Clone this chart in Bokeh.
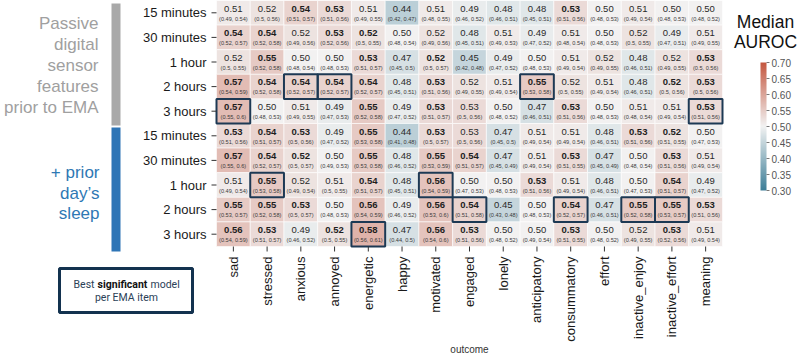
import math
import numpy as np
from bokeh.plotting import figure
from bokeh.models import ColumnDataSource, LinearColorMapper, Range1d
from bokeh.core.properties import value
from bokeh.transform import transform
from bokeh.embed import file_html
from bokeh.resources import INLINE

# ---------------- data ----------------
outcomes = ["sad", "stressed", "anxious", "annoyed", "energetic", "happy", "motivated",
            "engaged", "lonely", "anticipatory", "consummatory", "effort",
            "inactive_enjoy", "inactive_effort", "meaning"]
windows = ["15 minutes", "30 minutes", "1 hour", "2 hours", "3 hours"]
row_labels = windows + windows
group_passive = ["Passive", "digital", "sensor", "features", "prior to EMA"]
group_sleep = ["+ prior", "day\u2019s", "sleep"]

auroc = [
    [.51, .52, .54, .53, .51, .44, .51, .49, .48, .48, .53, .50, .51, .50, .50],
    [.54, .54, .52, .53, .52, .50, .52, .48, .51, .49, .51, .50, .52, .49, .51],
    [.52, .55, .50, .50, .53, .47, .52, .45, .49, .50, .51, .52, .48, .52, .53],
    [.57, .54, .54, .54, .54, .48, .53, .52, .51, .55, .52, .51, .48, .52, .53],
    [.57, .50, .51, .49, .55, .49, .53, .53, .50, .47, .53, .50, .51, .51, .53],
    [.53, .54, .53, .49, .55, .44, .53, .53, .47, .51, .51, .48, .53, .52, .50],
    [.57, .54, .52, .50, .55, .48, .55, .54, .47, .51, .53, .47, .50, .53, .51],
    [.51, .55, .52, .51, .54, .48, .56, .50, .50, .53, .51, .48, .50, .54, .49],
    [.55, .55, .53, .50, .56, .49, .56, .54, .45, .50, .54, .47, .55, .55, .53],
    [.56, .53, .49, .52, .58, .47, .56, .53, .50, .50, .53, .50, .52, .53, .51],
]
ci_low = [
    [.49, .50, .51, .51, .49, .42, .48, .46, .46, .45, .51, .48, .49, .48, .48],
    [.52, .52, .49, .52, .50, .48, .49, .45, .49, .47, .48, .48, .50, .47, .49],
    [.50, .52, .48, .48, .51, .45, .50, .42, .47, .48, .49, .49, .46, .49, .50],
    [.54, .52, .52, .52, .52, .45, .51, .49, .49, .53, .50, .49, .46, .50, .50],
    [.55, .48, .49, .47, .52, .47, .51, .50, .48, .46, .51, .48, .48, .49, .51],
    [.51, .51, .50, .47, .53, .41, .50, .50, .45, .49, .49, .46, .51, .51, .47],
    [.55, .52, .50, .49, .53, .46, .53, .51, .45, .49, .51, .45, .48, .51, .49],
    [.49, .53, .49, .50, .51, .45, .54, .47, .48, .51, .49, .46, .47, .51, .47],
    [.53, .52, .50, .48, .54, .46, .53, .51, .43, .48, .52, .46, .52, .53, .51],
    [.54, .51, .46, .50, .56, .44, .54, .51, .48, .49, .51, .48, .49, .52, .49],
]
ci_high = [
    [.54, .56, .57, .56, .55, .47, .55, .52, .51, .51, .56, .53, .54, .53, .52],
    [.57, .58, .56, .56, .55, .54, .56, .51, .53, .52, .54, .53, .55, .51, .55],
    [.55, .58, .54, .53, .57, .50, .57, .48, .52, .53, .54, .55, .51, .55, .56],
    [.59, .58, .57, .57, .57, .51, .56, .55, .54, .58, .55, .54, .51, .56, .56],
    [.60, .53, .55, .53, .58, .52, .57, .56, .52, .51, .56, .53, .54, .54, .56],
    [.56, .57, .56, .52, .58, .48, .57, .56, .50, .54, .54, .51, .56, .55, .53],
    [.60, .57, .57, .53, .58, .52, .59, .57, .49, .54, .55, .49, .54, .56, .54],
    [.54, .58, .54, .55, .57, .51, .59, .53, .53, .56, .54, .51, .53, .57, .52],
    [.57, .58, .57, .53, .59, .52, .60, .58, .48, .53, .57, .51, .58, .57, .56],
    [.59, .57, .52, .55, .61, .50, .60, .56, .52, .54, .55, .52, .55, .56, .54],
]
significant = [
    [0, 0, 1, 1, 0, 0, 0, 0, 0, 0, 1, 0, 0, 0, 0],
    [1, 1, 0, 1, 1, 0, 0, 0, 0, 0, 0, 0, 0, 0, 0],
    [0, 1, 0, 0, 1, 0, 1, 0, 0, 0, 0, 0, 0, 0, 1],
    [1, 1, 1, 1, 1, 0, 1, 0, 0, 1, 0, 0, 0, 1, 1],
    [1, 0, 0, 0, 1, 0, 1, 0, 0, 0, 1, 0, 0, 0, 1],
    [1, 1, 1, 0, 1, 0, 1, 0, 0, 0, 0, 0, 1, 1, 0],
    [1, 1, 1, 0, 1, 0, 1, 1, 0, 0, 1, 0, 0, 1, 0],
    [0, 1, 0, 0, 1, 0, 1, 0, 0, 1, 0, 0, 0, 1, 0],
    [1, 1, 1, 0, 1, 0, 1, 1, 0, 0, 1, 0, 1, 1, 1],
    [1, 1, 0, 1, 1, 0, 1, 1, 0, 0, 1, 0, 0, 1, 0],
]
# best significant model per EMA item: (row index, outcome)
best_rows = [3, 3, 3, 4, 4, 7, 7, 8, 8, 8, 8, 9]
best_items = ["anxious", "annoyed", "anticipatory", "sad", "meaning", "stressed", "motivated",
              "engaged", "consummatory", "inactive_enjoy", "inactive_effort", "energetic"]
cbar_ticks = [0.30, 0.35, 0.40, 0.45, 0.50, 0.55, 0.60, 0.65, 0.70]
CB_LOW, CB_HIGH = 0.30, 0.70

# ---------------- layout helpers ----------------
W, H = 800, 357
FL, FR, FT, FB = 216, 722, 0, 246          # heatmap area in canvas pixels
CBL, CBR, CBT, CBB = 760, 766, 62, 190     # colour bar area in canvas pixels
NC, NR = len(outcomes), len(row_labels)
FONT = "Liberation Sans"
CW = (FR - FL) / NC
RH = (FB - FT) / NR


def xd(px):
    return (px - FL) / CW


def yd(py):
    return (FB - py) / RH


def cb_y(v):
    return yd(CBB - (v - CB_LOW) / (CB_HIGH - CB_LOW) * (CBB - CBT))


def lerp(a, b, t):
    return tuple(int(round(a[i] + (b[i] - a[i]) * t)) for i in range(3))


blue, mid, red = (61, 126, 152), (242, 242, 242), (196, 86, 63)
palette = []
for i in range(256):
    t = i / 255
    c = lerp(blue, mid, t * 2) if t < 0.5 else lerp(mid, red, (t - 0.5) * 2)
    palette.append("#%02x%02x%02x" % c)
mapper = LinearColorMapper(palette=palette, low=CB_LOW, high=CB_HIGH)

col_index = {name: i for i, name in enumerate(outcomes)}
xs, ys, vals, labs, cis, sigs = [], [], [], [], [], []
for r in range(NR):
    for c in range(NC):
        xs.append(c + 0.5)
        ys.append(NR - r - 0.5)
        vals.append(auroc[r][c])
        labs.append("%.2f" % auroc[r][c])
        cis.append("(%s, %s)" % (format(ci_low[r][c], "g"), format(ci_high[r][c], "g")))
        sigs.append(significant[r][c])

src = ColumnDataSource(dict(x=xs, y=ys, value=vals, label=labs, ci=cis))
bold_idx = [i for i in range(len(xs)) if sigs[i]]
norm_idx = [i for i in range(len(xs)) if not sigs[i]]
src_bold = ColumnDataSource(dict(x=[xs[i] for i in bold_idx], y=[ys[i] for i in bold_idx],
                                 label=[labs[i] for i in bold_idx]))
src_norm = ColumnDataSource(dict(x=[xs[i] for i in norm_idx], y=[ys[i] for i in norm_idx],
                                 label=[labs[i] for i in norm_idx]))
src_best = ColumnDataSource(dict(x=[col_index[n] + 0.5 for n in best_items],
                                 y=[NR - r - 0.5 for r in best_rows]))

p = figure(width=W, height=H, x_range=Range1d(xd(0), xd(W)), y_range=Range1d(yd(H), yd(0)),
           output_backend="svg", toolbar_location=None,
           x_axis_location=None, y_axis_location=None,
           min_border_left=0, min_border_right=0, min_border_top=0, min_border_bottom=0)
p.outline_line_color = None
p.grid.visible = False
p.background_fill_color = "white"

# heatmap cells
p.rect(x="x", y="y", width=1, height=1, source=src,
       fill_color=transform("value", mapper), line_color="white", line_width=0.6)
p.text(x="x", y="y", text="label", source=src_bold, text_font=value(FONT),
       text_font_style="bold", text_font_size="9.5px", text_align="center",
       text_baseline="middle", y_offset=-4.3, text_color="#1e1e1e")
p.text(x="x", y="y", text="label", source=src_norm, text_font=value(FONT),
       text_font_style="normal", text_font_size="9.5px", text_align="center",
       text_baseline="middle", y_offset=-4.3, text_color="#2a2a2a")
p.text(x="x", y="y", text="ci", source=src, text_font=value(FONT), text_font_size="5.6px",
       text_align="center", text_baseline="middle", y_offset=5.8, text_color="#3a3a3a")
p.rect(x="x", y="y", width=1, height=1, source=src_best, fill_color=None,
       line_color="#1d3954", line_width=2)

# row axis (labels + ticks)
row_y = [NR - r - 0.5 for r in range(NR)]
p.segment(x0=[xd(211)] * NR, x1=[xd(216)] * NR, y0=row_y, y1=row_y,
          line_color="#333333", line_width=1)
p.text(x=[xd(206)] * NR, y=row_y, text=row_labels, text_font=value(FONT),
       text_font_size="13px", text_align="right", text_baseline="middle",
       text_color="#1a1a1a")

# outcome axis (labels + ticks)
col_x = [i + 0.5 for i in range(NC)]
p.segment(x0=col_x, x1=col_x, y0=[yd(246)] * NC, y1=[yd(251)] * NC,
          line_color="#333333", line_width=1)
p.text(x=col_x, y=[yd(256)] * NC, text=outcomes, angle=math.pi / 2,
       text_font=value(FONT), text_font_size="13px", text_align="right",
       text_baseline="middle", text_color="#1a1a1a")
p.text(x=[NC / 2], y=[yd(349)], text=["outcome"], text_font=value(FONT),
       text_font_size="10px", text_align="center", text_baseline="middle",
       text_color="#333333")

# colour bar (gradient image through the same colour mapper)
grad = np.linspace(CB_LOW, CB_HIGH, 256).reshape(-1, 1)
p.image(image=[grad], x=xd(CBL), y=yd(CBB), dw=xd(CBR) - xd(CBL), dh=yd(CBT) - yd(CBB),
        color_mapper=mapper)
tick_y = [cb_y(v) for v in cbar_ticks]
p.segment(x0=[xd(CBR)] * len(cbar_ticks), x1=[xd(CBR + 3)] * len(cbar_ticks),
          y0=tick_y, y1=tick_y, line_color="#777777", line_width=1)
p.text(x=[xd(CBR + 5)] * len(cbar_ticks), y=tick_y, text=["%.2f" % v for v in cbar_ticks],
       text_font=value(FONT), text_font_size="10px", text_color="#555555",
       text_align="left", text_baseline="middle")
p.text(x=[xd(765)] * 2, y=[yd(21), yd(41)], text=["Median", "AUROC"], text_font=value(FONT),
       text_font_size="17.5px", text_color="#111111", text_align="center",
       text_baseline="middle")

# group annotations on the left
p.text(x=[xd(98)] * len(group_passive), y=[yd(23 + 21 * i) for i in range(len(group_passive))],
       text=group_passive, text_font=value(FONT), text_font_size="17px",
       text_color="#a0a0a0", text_align="right", text_baseline="middle")
p.text(x=[xd(99)] * len(group_sleep), y=[yd(172 + 20.5 * i) for i in range(len(group_sleep))],
       text=group_sleep, text_font=value(FONT), text_font_size="17px",
       text_color="#2e78b4", text_align="right", text_baseline="middle")
p.quad(left=[xd(111), xd(111)], right=[xd(120), xd(120)], top=[yd(3), yd(127)],
       bottom=[yd(125), yd(251)], fill_color=["#a9a9a9", "#2e75b6"], line_color=None)

# legend box
p.quad(left=[xd(59)], right=[xd(192)], top=[yd(268)], bottom=[yd(312)], fill_color=None,
       line_color="#13324f", line_width=3)
LF = "Roboto"
p.text(x=[xd(94)], y=[yd(284)], text=["Best"], text_font=value(LF), text_font_size="10.5px",
       text_color="#2b4157", text_align="right", text_baseline="middle")
p.text(x=[xd(122)], y=[yd(284)], text=["significant"], text_font=value(LF),
       text_font_size="10.5px", text_font_style="bold", text_color="#111111",
       text_align="center", text_baseline="middle")
p.text(x=[xd(150)], y=[yd(284)], text=["model"], text_font=value(LF), text_font_size="10.5px",
       text_color="#2b4157", text_align="left", text_baseline="middle")
p.text(x=[xd(126)], y=[yd(297)], text=["per EMA item"], text_font=value(LF),
       text_font_size="10.5px", text_color="#2b4157", text_align="center",
       text_baseline="middle")

open("out.html", "w").write(file_html(p, INLINE))
